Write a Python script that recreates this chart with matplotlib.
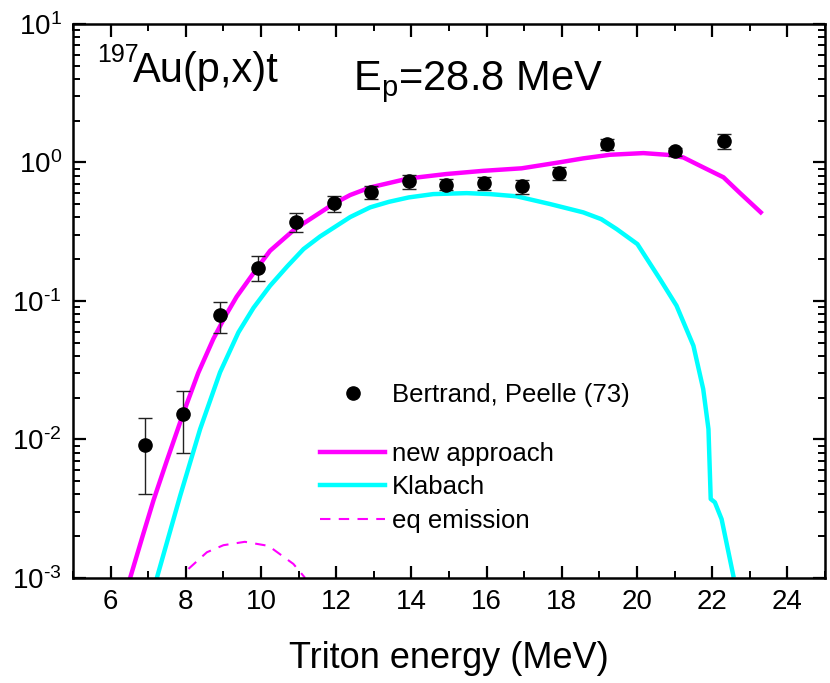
import matplotlib
matplotlib.use("Agg")
import matplotlib.pyplot as plt
import numpy as np
from matplotlib.ticker import MultipleLocator, LogLocator, FuncFormatter

plt.rcParams['font.family'] = ['Liberation Sans', 'DejaVu Sans']
plt.rcParams['mathtext.fontset'] = 'custom'
plt.rcParams['mathtext.rm'] = 'Liberation Sans'
plt.rcParams['mathtext.it'] = 'Liberation Sans'
plt.rcParams['axes.unicode_minus'] = False

# Bertrand, Peelle (73) measured spectrum
exp_e = [6.92, 7.92, 8.91, 9.92, 10.92, 11.93, 12.93, 13.93, 14.93, 15.93, 16.93, 17.93, 19.2, 21.0, 22.31]
exp_y = [0.0091, 0.0152, 0.079, 0.174, 0.372, 0.506, 0.613, 0.729, 0.689, 0.71, 0.671, 0.837, 1.355, 1.2, 1.426]
exp_lo = [0.0040, 0.0080, 0.0585, 0.139, 0.315, 0.44, 0.543, 0.64, 0.634, 0.628, 0.59, 0.749, 1.23, 1.12, 1.25]
exp_hi = [0.0142, 0.0222, 0.0986, 0.212, 0.428, 0.571, 0.678, 0.81, 0.758, 0.783, 0.745, 0.93, 1.47, 1.26, 1.6]

# new approach
new_e = [6.52, 6.85, 7.14, 7.5, 7.92, 8.33, 8.73, 9.05, 9.35, 9.91, 10.24, 10.9, 11.92, 12.37, 12.9,
         13.93, 14.93, 15.91, 16.93, 17.93, 18.57, 19.28, 20.17, 20.88, 21.23, 21.68, 22.3, 22.74, 23.29]
new_y = [0.001, 0.0020, 0.00363, 0.00708, 0.0151, 0.0302, 0.053, 0.0776, 0.107, 0.1746, 0.230, 0.330,
         0.500, 0.581, 0.659, 0.766, 0.824, 0.869, 0.906, 1.0, 1.069, 1.135, 1.167, 1.130, 1.086,
         0.944, 0.780, 0.600, 0.436]

# Klabach
kl_e = [7.23, 7.85, 8.38, 8.91, 9.4, 9.8, 10.24, 10.7, 11.13, 11.57, 12.01, 12.37, 12.9, 13.4, 13.93,
        14.58, 15.47, 16.09, 16.8, 17.69, 18.57, 19.05, 19.46, 20.01, 20.61, 21.05, 21.5, 21.76, 21.9,
        21.96, 22.07, 22.25, 22.56]
kl_y = [0.001, 0.00392, 0.01186, 0.0305, 0.0593, 0.0891, 0.1285, 0.1778, 0.2366, 0.2917, 0.3483,
        0.4027, 0.4732, 0.5188, 0.5585, 0.5902, 0.5998, 0.5902, 0.5689, 0.500, 0.4355, 0.389, 0.3296,
        0.2570, 0.1436, 0.0923, 0.0474, 0.0231, 0.01186, 0.00371, 0.00351, 0.00265, 0.00104]

# equilibrium emission
eq_e = [8.07, 8.56, 9.0, 9.57, 10.2, 10.86, 11.17]
eq_y = [0.00116, 0.00153, 0.00172, 0.00182, 0.0017, 0.00126, 0.001]

fig = plt.figure(figsize=(8.3, 6.83), dpi=100)
ax = fig.add_axes([0.088, 0.154, 0.906, 0.811])

l1, = ax.plot(new_e, new_y, color='#ff00ff', lw=3.2, label='new approach', solid_joinstyle='round')
l2, = ax.plot(kl_e, kl_y, color='#00ffff', lw=3.2, label='Klabach', solid_joinstyle='round')
l3, = ax.plot(eq_e, eq_y, color='#ff00ff', lw=1.5, ls=(0, (5, 4)), label='eq emission')
pts = ax.errorbar(exp_e, exp_y,
                  yerr=[[y - lo for y, lo in zip(exp_y, exp_lo)], [hi - y for y, hi in zip(exp_y, exp_hi)]],
                  fmt='o', color='black', ms=9.5, ecolor='#222222', elinewidth=1.0,
                  capsize=5, capthick=1.0, label='Bertrand, Peelle (73)', zorder=5)

ax.set_yscale('log')
ax.set_xlim(5, 25)
ax.set_ylim(1e-3, 10)
ax.xaxis.set_major_locator(MultipleLocator(2))
ax.xaxis.set_minor_locator(MultipleLocator(1))
ax.yaxis.set_major_locator(LogLocator(base=10))
ax.yaxis.set_minor_locator(LogLocator(base=10, subs=range(2, 10)))


def pow_label(v, pos):
    n = int(round(np.log10(v)))
    exp = str(n).replace('-', '\u2010')
    return r'$\mathregular{10^{%s}}$' % exp


ax.yaxis.set_major_formatter(FuncFormatter(pow_label))

for s in ax.spines.values():
    s.set_linewidth(1.8)
ax.tick_params(which='both', direction='in', top=True, right=True)
ax.tick_params(which='major', length=9, width=1.6, labelsize=20, pad=8)
ax.tick_params(which='minor', length=5, width=1.4)

ax.set_xlabel('Triton energy (MeV)', fontsize=26, labelpad=19)

ax.text(0.032, 0.932, '197', transform=ax.transAxes, fontsize=18, va='baseline')
ax.text(0.080, 0.895, 'Au(p,x)t', transform=ax.transAxes, fontsize=30, va='baseline')
ax.text(0.372, 0.88, r'E$_\mathregular{p}$=28.8 MeV', transform=ax.transAxes, fontsize=30, va='baseline')

leg1 = ax.legend([pts[0]], ['Bertrand, Peelle (73)'], loc='upper left', bbox_to_anchor=(0.329, 0.352),
                 frameon=False, fontsize=18.5, handlelength=2.5, handletextpad=0.27,
                 borderpad=0, borderaxespad=0, numpoints=1)
ax.add_artist(leg1)
ax.legend([l1, l2, l3], ['new approach', 'Klabach', 'eq emission'], loc='upper left',
          bbox_to_anchor=(0.329, 0.246), frameon=False, fontsize=18.5, handlelength=2.5,
          handletextpad=0.27, labelspacing=0.37, borderpad=0, borderaxespad=0)

fig.savefig('out.png', dpi=100)
